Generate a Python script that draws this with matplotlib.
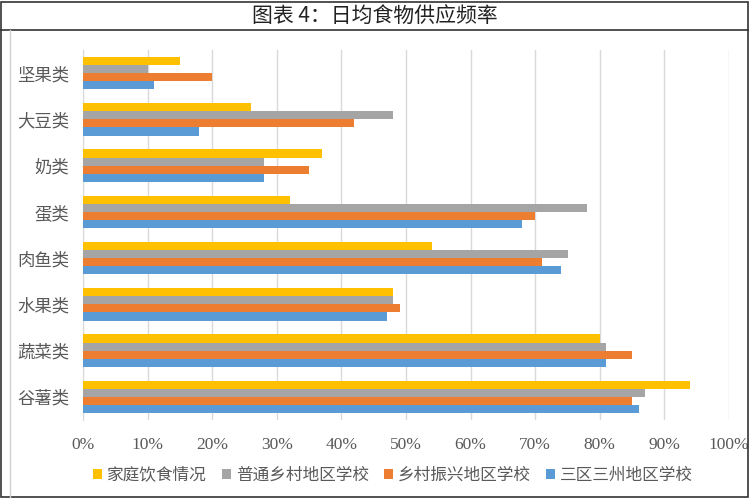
import numpy as np
import matplotlib
matplotlib.use("Agg")
import matplotlib.pyplot as plt
from matplotlib.patches import Rectangle, Patch
from matplotlib.lines import Line2D
from matplotlib.ticker import PercentFormatter

plt.rcParams['font.family'] = ['Noto Sans CJK SC', 'DejaVu Sans']

# data (percent)
categories = ["坚果类", "大豆类", "奶类", "蛋类", "肉鱼类", "水果类", "蔬菜类", "谷薯类"]
series_names = ["家庭饮食情况", "普通乡村地区学校", "乡村振兴地区学校", "三区三州地区学校"]
home = [15, 26, 37, 32, 54, 48, 80, 94]
rural = [10, 48, 28, 78, 75, 48, 81, 87]
revital = [20, 42, 35, 70, 71, 49, 85, 85]
sanqu = [11, 18, 28, 68, 74, 47, 81, 86]
x_ticks = [0, 10, 20, 30, 40, 50, 60, 70, 80, 90, 100]

colors = ["#FFC000", "#A5A5A5", "#ED7D31", "#5B9BD5"]
text_grey = "#595959"

fig = plt.figure(figsize=(7.5, 5), dpi=100)

# frame around the whole thing + title band
fig.add_artist(Rectangle((0.001, 0.006), 0.996, 0.99, transform=fig.transFigure,
                         fill=False, edgecolor="#333333", linewidth=1.2))
fig.add_artist(Line2D([0.001, 0.997], [0.94, 0.94], transform=fig.transFigure,
                      color="#333333", linewidth=1.2))
fig.add_artist(Line2D([0.013, 0.013], [0.006, 0.94], transform=fig.transFigure,
                      color="#d0d0d0", linewidth=1.0))
fig.text(0.5, 0.968, "图表 4：日均食物供应频率", ha="center", va="center",
         fontsize=15, color="#222222")

ax = fig.add_axes([0.1107, 0.16, 0.8613, 0.74])

y = np.arange(len(categories))
h = 0.175
all_series = [home, rural, revital, sanqu]
for i, (vals, col) in enumerate(zip(all_series, colors)):
    ax.barh(y + (i - 1.5) * h, vals, height=h, color=col, zorder=3)

ax.set_xlim(0, 100)
ax.set_ylim(len(categories) - 0.5, -0.5)
ax.set_xticks(x_ticks)
ax.xaxis.set_major_formatter(PercentFormatter(decimals=0))
ax.set_yticks(y)
ax.set_yticklabels(categories, fontsize=12.5, color=text_grey)
for lab in ax.get_xticklabels():
    lab.set_fontfamily("Liberation Serif")
    lab.set_fontsize(12.5)
    lab.set_color(text_grey)
ax.tick_params(axis="both", length=0)
ax.tick_params(axis="x", pad=12)
ax.tick_params(axis="y", pad=10)
ax.grid(axis="x", color="#d9d9d9", linewidth=1.0, zorder=0)
for s in ["top", "right", "bottom"]:
    ax.spines[s].set_visible(False)
ax.spines["left"].set_color("#d9d9d9")

handles = [Patch(facecolor=c, edgecolor="none") for c in colors]
fig.legend(handles, series_names, loc="center", bbox_to_anchor=(0.524, 0.05),
           ncol=4, frameon=False, fontsize=12, labelcolor=text_grey,
           handlelength=0.55, handleheight=0.55, handletextpad=0.3, columnspacing=0.9)

fig.savefig("out.png", dpi=100)
